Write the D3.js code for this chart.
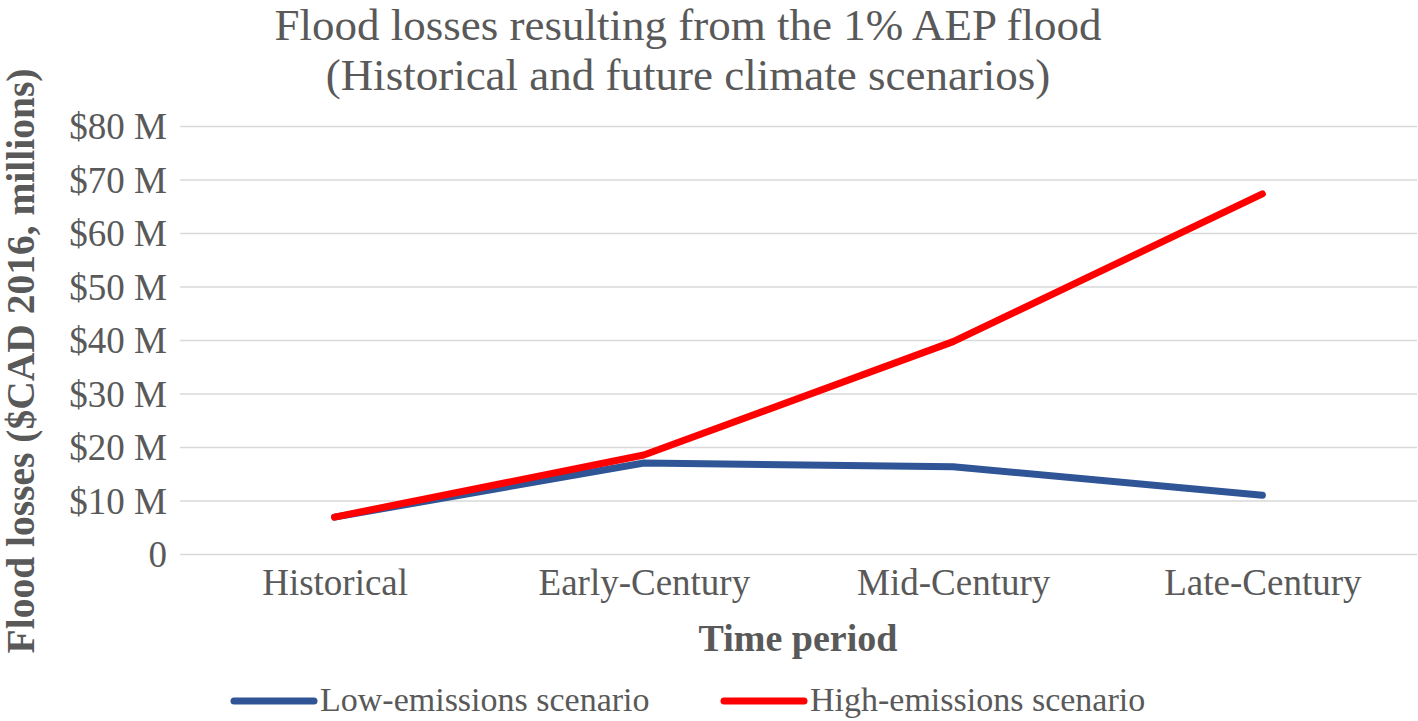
<!DOCTYPE html>
<html>
<head>
<meta charset="utf-8">
<script src="https://cdn.jsdelivr.net/npm/d3@7"></script>
<style>
  html, body { margin: 0; padding: 0; background: #fff; }
  svg { display: block; font-family: "Liberation Serif", "Times New Roman", serif; }
</style>
</head>
<body>
<svg id="chart" width="1418" height="721"></svg>
<script>
// chart data
const categories = ['Historical', 'Early-Century', 'Mid-Century', 'Late-Century'];
const lowEmissions = [6.9, 17.0, 16.3, 11.0];
const highEmissions = [6.9, 18.5, 39.7, 67.3];
const yTicks = [0, 10, 20, 30, 40, 50, 60, 70, 80];
const seriesNames = ['Low-emissions scenario', 'High-emissions scenario'];

// layout
const svg = d3.select('#chart');
const plot = { left: 180, right: 1417, top: 126, bottom: 554 };
const textColor = '#595959';
const lineColors = ['#2f5597', '#ff0000'];

let xScale = d3.scalePoint()
    .domain(categories)
    .range([plot.left, plot.right])
    .padding(0.5);
let yScale = d3.scaleLinear()
    .domain([0, 80])
    .range([plot.bottom, plot.top]);

// title
const title = svg.append('g')
    .attr('fill', textColor)
    .style('font-size', '45px')
    .attr('text-anchor', 'middle');
title.append('text').attr('x', 688).attr('y', 40).text('Flood losses resulting from the 1% AEP flood');
title.append('text').attr('x', 688).attr('y', 90).text('(Historical and future climate scenarios)');

// gridlines + y labels
let yAxis = svg.append('g')
    .attr('transform', `translate(${plot.left},0)`)
    .call(d3.axisLeft(yScale)
        .tickValues(yTicks)
        .tickSize(-(plot.right - plot.left))
        .tickPadding(13)
        .tickFormat(d => d === 0 ? '0' : `$${d} M`));
yAxis.select('.domain').remove();
yAxis.selectAll('.tick line')
    .attr('stroke', '#d9d9d9')
    .attr('stroke-width', 1.5);
yAxis.selectAll('.tick text')
    .attr('fill', textColor)
    .style('font-family', '"Liberation Serif", "Times New Roman", serif')
    .style('font-size', '37px')
    .attr('dy', '0.34em');

// x labels
let xAxis = svg.append('g')
    .attr('transform', `translate(0,${plot.bottom})`)
    .call(d3.axisBottom(xScale).tickSize(0).tickPadding(0));
xAxis.select('.domain').remove();
xAxis.selectAll('.tick text')
    .attr('fill', textColor)
    .style('font-family', '"Liberation Serif", "Times New Roman", serif')
    .style('font-size', '37px')
    .attr('dy', null)
    .attr('y', 41);

// axis titles
svg.append('text')
    .attr('x', 798)
    .attr('y', 651)
    .attr('text-anchor', 'middle')
    .attr('fill', textColor)
    .style('font-size', '38px')
    .style('font-weight', 'bold')
    .text('Time period');
svg.append('text')
    .attr('transform', 'translate(34,361) rotate(-90)')
    .attr('text-anchor', 'middle')
    .attr('fill', textColor)
    .style('font-size', '39.5px')
    .style('font-weight', 'bold')
    .text('Flood losses ($CAD 2016, millions)');

// lines
const line = d3.line()
    .x((d, i) => xScale(categories[i]))
    .y(d => yScale(d));
[lowEmissions, highEmissions].forEach((values, i) => {
    svg.append('path')
        .datum(values)
        .attr('d', line)
        .attr('fill', 'none')
        .attr('stroke', lineColors[i])
        .attr('stroke-width', 7)
        .attr('stroke-linecap', 'round')
        .attr('stroke-linejoin', 'round');
});

// legend
const legendX = [234, 724];
const legend = svg.append('g')
    .selectAll('g')
    .data(seriesNames)
    .join('g')
    .attr('transform', (d, i) => `translate(${legendX[i]},701)`);
legend.append('line')
    .attr('x1', 0).attr('x2', 80)
    .attr('stroke', (d, i) => lineColors[i])
    .attr('stroke-width', 7)
    .attr('stroke-linecap', 'round');
legend.append('text')
    .attr('x', 86)
    .attr('y', 10)
    .attr('fill', textColor)
    .style('font-size', '34px')
    .text(d => d);
</script>
</body>
</html>
